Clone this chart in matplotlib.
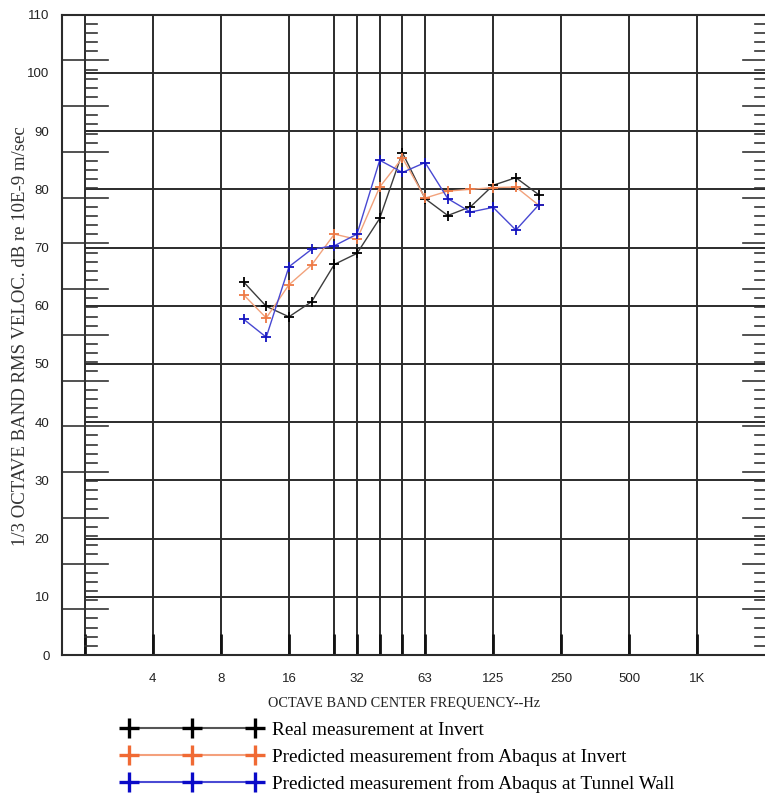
import numpy as np
import matplotlib
matplotlib.use("Agg")
import matplotlib.pyplot as plt
from matplotlib.lines import Line2D

# 1/3-octave band centres (nominal, Hz)
band_freqs = [10, 12.5, 16, 20, 25, 31.5, 40, 50, 63, 80, 100, 125, 160, 200]

# RMS velocity levels, dB re 10E-9 m/sec
real_invert = [64.1, 59.9, 58.1, 60.7, 67.1, 69.0, 75.0, 86.3, 78.4, 75.5, 77.0, 80.7, 82.0, 79.1]
abaqus_invert = [61.9, 57.9, 63.6, 67.0, 72.3, 71.4, 80.4, 85.4, 78.5, 79.7, 80.0, 80.3, 80.4, 77.3]
abaqus_wall = [57.7, 54.6, 66.7, 69.7, 70.3, 72.3, 85.0, 82.9, 84.6, 78.4, 76.1, 76.9, 73.0, 77.3]

series_labels = [
    "Real measurement at Invert",
    "Predicted measurement from Abaqus at Invert",
    "Predicted measurement from Abaqus at Tunnel Wall",
]

grid_freqs = [2, 4, 8, 16, 25, 31.5, 40, 50, 63, 125, 250, 500, 1000]
tick_freqs = [4, 8, 16, 31.5, 63, 125, 250, 500, 1000]
tick_labels = ["4", "8", "16", "32", "63", "125", "250", "500", "1K"]
y_ticks = list(range(0, 111, 10))


def band_exact(f):
    """Map a nominal band frequency onto the exact base-2 band centre."""
    f = np.asarray(f, dtype=float)
    return 1000.0 * 2.0 ** (np.round(3 * np.log2(f / 1000.0)) / 3.0)


W, H = 765, 796
fig = plt.figure(figsize=(W / 100, H / 100), dpi=100)
ax = fig.add_axes([62 / W, 141 / H, 703.5 / W, 640.3 / H])

ax.set_xscale("log", base=2)
x_lo, x_hi = 1000.0 * 2 ** (-28 / 3), 2000.0
ax.set_xlim(x_lo, x_hi)
ax.set_ylim(0, 110)

grid_col = "#2b2b2b"
for s in ("left", "top", "bottom"):
    ax.spines[s].set_color(grid_col)
    ax.spines[s].set_linewidth(1.5)
ax.spines["right"].set_visible(False)

# vertical band lines
for f in grid_freqs:
    ax.axvline(band_exact(f), color=grid_col, lw=1.4, zorder=1)
    ax.vlines(band_exact(f), 0, 3.6, color="#111111", lw=2.0, zorder=1)

# horizontal level lines start at the 2 Hz line
ax.hlines(y_ticks[1:-1], band_exact(2), x_hi, color=grid_col, lw=1.4, zorder=1)

# scale ticks along both side edges
for k in range(71):
    yy = k / 70
    if k % 5 == 0:
        segs = [(0.0, 0.0654), (0.968, 1.0)]
    else:
        segs = [(0.0327, 0.0497), (0.985, 1.0)]
    for x0, x1 in segs:
        ax.plot([x0, x1], [yy, yy], color="#333333", lw=1.2,
                transform=ax.transAxes, clip_on=False, zorder=1)

ax.set_xticks(band_exact(tick_freqs))
ax.set_xticklabels(tick_labels)
ax.minorticks_off()
ax.set_yticks(y_ticks)
ax.tick_params(axis="both", length=0, labelsize=9.5, colors="#222222")
ax.tick_params(axis="x", pad=13)
ax.tick_params(axis="y", pad=9)
for lab in ax.get_xticklabels() + ax.get_yticklabels():
    lab.set_family("Liberation Sans")

x = band_exact(band_freqs)
styles = [
    (real_invert, "#3c3c3c", "#000000"),
    (abaqus_invert, "#f2a27c", "#ee7a45"),
    (abaqus_wall, "#4848d2", "#1414c0"),
]
for vals, lc, mc in styles:
    ax.plot(x, vals, color=lc, lw=1.0, marker="+", ms=7.5, mew=1.3,
            mec=mc, zorder=5)

serif = "Liberation Serif"
fig.text(21 / W, 1 - 336.5 / H, "1/3 OCTAVE BAND RMS VELOC. dB re 10E-9 m/sec",
         rotation=90, ha="center", va="center", family=serif, fontsize=13.5,
         color="#333333")
fig.text(404 / W, 1 - 703 / H, "OCTAVE BAND CENTER FREQUENCY--Hz",
         ha="center", va="center", family=serif, fontsize=10.3, color="#222222")

handles = [
    Line2D([], [], color="#555555", lw=1.5, marker="+", ms=14, mew=2.4, mec="#000000"),
    Line2D([], [], color="#f4a07c", lw=1.5, marker="+", ms=14, mew=2.4, mec="#f06a34"),
    Line2D([], [], color="#4a4ad4", lw=1.5, marker="+", ms=14, mew=2.4, mec="#0a0ac8"),
]
fig.legend(handles, series_labels, loc="upper left",
           bbox_to_anchor=(123 / W, 1 - 721 / H), frameon=False, numpoints=3,
           handlelength=7.16, handletextpad=0.55, labelspacing=0.49,
           borderpad=0, borderaxespad=0,
           prop={"family": serif, "size": 13.9})

fig.savefig("out.png", dpi=100)
